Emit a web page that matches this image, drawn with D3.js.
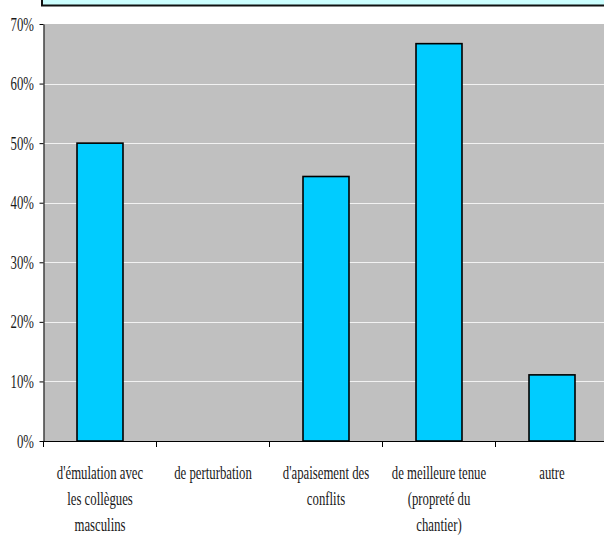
<!DOCTYPE html>
<html>
<head>
<meta charset="utf-8">
<script src="https://cdn.jsdelivr.net/npm/d3@7/dist/d3.min.js"></script>
<style>
  html, body { margin: 0; padding: 0; background: #fff; }
  svg { display: block; }
  text { font-family: "Liberation Serif", "Times New Roman", serif; fill: #1a1a1a; }
</style>
</head>
<body>
<svg id="chart" width="604" height="535"></svg>
<script>
const categories = [
  ["d'émulation avec", "les collègues", "masculins"],
  ["de perturbation"],
  ["d'apaisement des", "conflits"],
  ["de meilleure tenue", "(propreté du", "chantier)"],
  ["autre"]
];
const values = [0.50, 0.0, 0.444, 0.667, 0.111];
const yTicks = [0, 0.1, 0.2, 0.3, 0.4, 0.5, 0.6, 0.7];
const yTickLabels = ["0%", "10%", "20%", "30%", "40%", "50%", "60%", "70%"];

(function () {
const svg = d3.select("#chart");
const pLeft = 43.5, pRight = 608.5, pTop = 24, pBottom = 441;
const sx = 0.71;

// header box (cropped)
svg.append("rect").attr("x", 42).attr("y", -20).attr("width", 600).attr("height", 25.5)
  .attr("fill", "#ccffff").attr("stroke", "#111").attr("stroke-width", 2);

const ids = categories.map((c, i) => i);
const x = d3.scaleBand().domain(ids).range([pLeft, pRight]).paddingInner(0.593).paddingOuter(0.2965);
const y = d3.scaleLinear().domain([0, 0.7]).range([pBottom, pTop]);

// plot background
svg.append("rect").attr("x", pLeft).attr("y", pTop).attr("width", pRight - pLeft).attr("height", pBottom - pTop)
  .attr("fill", "#c0c0c0");

// gridlines
svg.append("g").selectAll("line").data(yTicks.slice(1, -1)).join("line")
  .attr("x1", pLeft).attr("x2", pRight)
  .attr("y1", d => Math.round(y(d)) + 0.5).attr("y2", d => Math.round(y(d)) + 0.5)
  .attr("stroke", "#f2f2f2").attr("stroke-width", 1.2);

// bars
svg.append("g").selectAll("rect").data(values.map((v, i) => ({v, i})).filter(d => d.v > 0)).join("rect")
  .attr("x", d => x(d.i)).attr("width", x.bandwidth())
  .attr("y", d => y(d.v)).attr("height", d => y(0) - y(d.v))
  .attr("fill", "#00ccff").attr("stroke", "#000").attr("stroke-width", 1.6);

// y axis
const yAxis = d3.axisLeft(y).tickValues(yTicks).tickFormat((d, i) => yTickLabels[i]).tickSize(4).tickSizeOuter(0);
const gy = svg.append("g").attr("transform", `translate(${pLeft},0)`).call(yAxis);
gy.attr("font-family", null).attr("font-size", null);
gy.select(".domain").attr("stroke", "#000");
gy.selectAll(".tick line").attr("stroke", "#000");
gy.selectAll(".tick text").each(function() {
  d3.select(this).attr("x", null).attr("dy", null).attr("text-anchor", "end")
   .attr("transform", `translate(-9.5,6) scale(${sx},1)`)
   .style("font-size", "18px");
});

// x axis: line and boundary ticks
const gx = svg.append("g");
gx.append("line").attr("x1", pLeft).attr("x2", pRight).attr("y1", pBottom + 0.5).attr("y2", pBottom + 0.5)
  .attr("stroke", "#000");
const bstart = ids.map(i => pLeft + i * x.step()).concat([pLeft + ids.length * x.step()]);
gx.selectAll("line.b").data(bstart).join("line").attr("class", "b")
  .attr("x1", d => d).attr("x2", d => d).attr("y1", pBottom).attr("y2", pBottom + 6)
  .attr("stroke", "#000");

// x labels
const lab = svg.append("g").selectAll("g").data(categories.map((c, i) => ({c, i}))).join("g")
  .attr("transform", d => `translate(${x(d.i) + x.bandwidth() / 2},479) scale(${sx},1)`);
lab.selectAll("text").data(d => d.c).join("text")
  .attr("y", (d, j) => j * 26).attr("text-anchor", "middle")
  .style("font-size", "18px").text(d => d);
})();
</script>
</body>
</html>
